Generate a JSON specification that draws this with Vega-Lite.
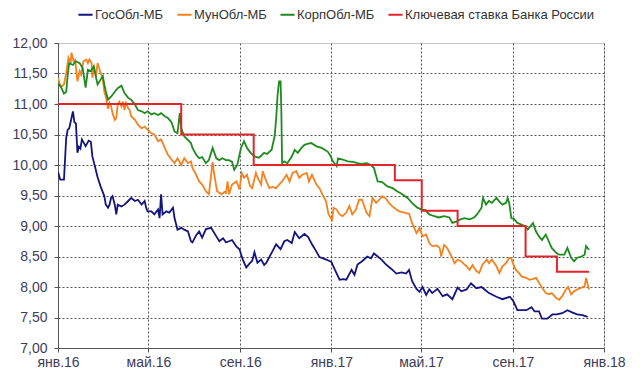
{
  "$schema": "https://vega.github.io/schema/vega-lite/v6.json",
  "width": 546,
  "height": 305,
  "autosize": {"type": "none"},
  "padding": {"left": 58, "top": 43, "right": 36, "bottom": 44},
  "background": "white",
  "config": {
    "font": "Liberation Sans",
    "view": {"stroke": "#c8c8c8", "strokeWidth": 1},
    "axis": {
      "labelFont": "Liberation Sans",
      "labelFontSize": 14,
      "labelColor": "#3c3c5a",
      "domainColor": "#555555",
      "tickColor": "#555555",
      "tickSize": 4,
      "gridColor": "#555555",
      "gridDash": [2, 2],
      "gridOpacity": 1,
      "gridWidth": 1,
      "title": null
    },
    "legend": {
      "labelFont": "Liberation Sans",
      "labelFontSize": 13,
      "labelColor": "#333333",
      "labelLimit": 0
    }
  },
  "datasets": {
    "bonds": [
      {"d":"2016-01-01","s":"ГосОбл-МБ","v":9.89},
      {"d":"2016-01-04","s":"ГосОбл-МБ","v":9.76},
      {"d":"2016-01-09","s":"ГосОбл-МБ","v":9.76},
      {"d":"2016-01-12","s":"ГосОбл-МБ","v":10.45},
      {"d":"2016-01-14","s":"ГосОбл-МБ","v":10.58},
      {"d":"2016-01-16","s":"ГосОбл-МБ","v":10.6},
      {"d":"2016-01-18","s":"ГосОбл-МБ","v":10.71},
      {"d":"2016-01-21","s":"ГосОбл-МБ","v":10.88},
      {"d":"2016-01-23","s":"ГосОбл-МБ","v":10.7},
      {"d":"2016-01-25","s":"ГосОбл-МБ","v":10.68},
      {"d":"2016-01-27","s":"ГосОбл-МБ","v":10.2},
      {"d":"2016-01-29","s":"ГосОбл-МБ","v":10.3},
      {"d":"2016-01-31","s":"ГосОбл-МБ","v":10.27},
      {"d":"2016-02-02","s":"ГосОбл-МБ","v":10.42},
      {"d":"2016-02-07","s":"ГосОбл-МБ","v":10.31},
      {"d":"2016-02-11","s":"ГосОбл-МБ","v":10.4},
      {"d":"2016-02-14","s":"ГосОбл-МБ","v":10.38},
      {"d":"2016-02-16","s":"ГосОбл-МБ","v":10.14},
      {"d":"2016-02-20","s":"ГосОбл-МБ","v":9.95},
      {"d":"2016-02-23","s":"ГосОбл-МБ","v":9.8},
      {"d":"2016-02-27","s":"ГосОбл-МБ","v":9.65},
      {"d":"2016-03-03","s":"ГосОбл-МБ","v":9.49},
      {"d":"2016-03-05","s":"ГосОбл-МБ","v":9.35},
      {"d":"2016-03-08","s":"ГосОбл-МБ","v":9.3},
      {"d":"2016-03-10","s":"ГосОбл-МБ","v":9.35},
      {"d":"2016-03-12","s":"ГосОбл-МБ","v":9.46},
      {"d":"2016-03-14","s":"ГосОбл-МБ","v":9.49},
      {"d":"2016-03-17","s":"ГосОбл-МБ","v":9.35},
      {"d":"2016-03-19","s":"ГосОбл-МБ","v":9.19},
      {"d":"2016-03-21","s":"ГосОбл-МБ","v":9.35},
      {"d":"2016-03-26","s":"ГосОбл-МБ","v":9.32},
      {"d":"2016-03-30","s":"ГосОбл-МБ","v":9.35},
      {"d":"2016-04-04","s":"ГосОбл-МБ","v":9.41},
      {"d":"2016-04-08","s":"ГосОбл-МБ","v":9.46},
      {"d":"2016-04-13","s":"ГосОбл-МБ","v":9.41},
      {"d":"2016-04-17","s":"ГосОбл-МБ","v":9.43},
      {"d":"2016-04-22","s":"ГосОбл-МБ","v":9.35},
      {"d":"2016-04-26","s":"ГосОбл-МБ","v":9.41},
      {"d":"2016-04-28","s":"ГосОбл-МБ","v":9.3},
      {"d":"2016-04-30","s":"ГосОбл-МБ","v":9.24},
      {"d":"2016-05-05","s":"ГосОбл-МБ","v":9.24},
      {"d":"2016-05-09","s":"ГосОбл-МБ","v":9.19},
      {"d":"2016-05-14","s":"ГосОбл-МБ","v":9.27},
      {"d":"2016-05-16","s":"ГосОбл-МБ","v":9.13},
      {"d":"2016-05-18","s":"ГосОбл-МБ","v":9.52},
      {"d":"2016-05-20","s":"ГосОбл-МБ","v":9.19},
      {"d":"2016-05-25","s":"ГосОбл-МБ","v":9.24},
      {"d":"2016-05-29","s":"ГосОбл-МБ","v":9.22},
      {"d":"2016-06-03","s":"ГосОбл-МБ","v":9.3},
      {"d":"2016-06-05","s":"ГосОбл-МБ","v":9.13},
      {"d":"2016-06-09","s":"ГосОбл-МБ","v":8.94},
      {"d":"2016-06-14","s":"ГосОбл-МБ","v":8.97},
      {"d":"2016-06-18","s":"ГосОбл-МБ","v":8.94},
      {"d":"2016-06-23","s":"ГосОбл-МБ","v":8.91},
      {"d":"2016-06-27","s":"ГосОбл-МБ","v":8.75},
      {"d":"2016-06-29","s":"ГосОбл-МБ","v":8.73},
      {"d":"2016-07-04","s":"ГосОбл-МБ","v":8.85},
      {"d":"2016-07-08","s":"ГосОбл-МБ","v":8.91},
      {"d":"2016-07-12","s":"ГосОбл-МБ","v":8.81},
      {"d":"2016-07-17","s":"ГосОбл-МБ","v":8.95},
      {"d":"2016-07-24","s":"ГосОбл-МБ","v":8.97},
      {"d":"2016-07-30","s":"ГосОбл-МБ","v":8.85},
      {"d":"2016-08-04","s":"ГосОбл-МБ","v":8.75},
      {"d":"2016-08-09","s":"ГосОбл-МБ","v":8.8},
      {"d":"2016-08-13","s":"ГосОбл-МБ","v":8.73},
      {"d":"2016-08-21","s":"ГосОбл-МБ","v":8.77},
      {"d":"2016-08-27","s":"ГосОбл-МБ","v":8.66},
      {"d":"2016-08-31","s":"ГосОбл-МБ","v":8.62},
      {"d":"2016-09-04","s":"ГосОбл-МБ","v":8.46},
      {"d":"2016-09-09","s":"ГосОбл-МБ","v":8.32},
      {"d":"2016-09-13","s":"ГосОбл-МБ","v":8.38},
      {"d":"2016-09-17","s":"ГосОбл-МБ","v":8.43},
      {"d":"2016-09-20","s":"ГосОбл-МБ","v":8.57},
      {"d":"2016-09-24","s":"ГосОбл-МБ","v":8.4},
      {"d":"2016-09-29","s":"ГосОбл-МБ","v":8.45},
      {"d":"2016-10-03","s":"ГосОбл-МБ","v":8.36},
      {"d":"2016-10-06","s":"ГосОбл-МБ","v":8.4},
      {"d":"2016-10-13","s":"ГосОбл-МБ","v":8.56},
      {"d":"2016-10-19","s":"ГосОбл-МБ","v":8.7},
      {"d":"2016-10-25","s":"ГосОбл-МБ","v":8.62},
      {"d":"2016-10-30","s":"ГосОбл-МБ","v":8.75},
      {"d":"2016-11-03","s":"ГосОбл-МБ","v":8.77},
      {"d":"2016-11-09","s":"ГосОбл-МБ","v":8.72},
      {"d":"2016-11-13","s":"ГосОбл-МБ","v":8.9},
      {"d":"2016-11-19","s":"ГосОбл-МБ","v":8.8},
      {"d":"2016-11-26","s":"ГосОбл-МБ","v":8.87},
      {"d":"2016-12-01","s":"ГосОбл-МБ","v":8.82},
      {"d":"2016-12-06","s":"ГосОбл-МБ","v":8.7},
      {"d":"2016-12-12","s":"ГосОбл-МБ","v":8.58},
      {"d":"2016-12-16","s":"ГосОбл-МБ","v":8.49},
      {"d":"2016-12-21","s":"ГосОбл-МБ","v":8.47},
      {"d":"2016-12-25","s":"ГосОбл-МБ","v":8.45},
      {"d":"2017-01-01","s":"ГосОбл-МБ","v":8.41},
      {"d":"2017-01-05","s":"ГосОбл-МБ","v":8.3},
      {"d":"2017-01-12","s":"ГосОбл-МБ","v":8.12},
      {"d":"2017-01-17","s":"ГосОбл-МБ","v":8.13},
      {"d":"2017-01-21","s":"ГосОбл-МБ","v":8.12},
      {"d":"2017-01-28","s":"ГосОбл-МБ","v":8.28},
      {"d":"2017-02-01","s":"ГосОбл-МБ","v":8.2},
      {"d":"2017-02-05","s":"ГосОбл-МБ","v":8.37},
      {"d":"2017-02-12","s":"ГосОбл-МБ","v":8.43},
      {"d":"2017-02-18","s":"ГосОбл-МБ","v":8.5},
      {"d":"2017-02-23","s":"ГосОбл-МБ","v":8.47},
      {"d":"2017-02-27","s":"ГосОбл-МБ","v":8.55},
      {"d":"2017-03-02","s":"ГосОбл-МБ","v":8.52},
      {"d":"2017-03-09","s":"ГосОбл-МБ","v":8.45},
      {"d":"2017-03-15","s":"ГосОбл-МБ","v":8.37},
      {"d":"2017-03-22","s":"ГосОбл-МБ","v":8.3},
      {"d":"2017-03-29","s":"ГосОбл-МБ","v":8.22},
      {"d":"2017-04-05","s":"ГосОбл-МБ","v":8.24},
      {"d":"2017-04-11","s":"ГосОбл-МБ","v":8.22},
      {"d":"2017-04-15","s":"ГосОбл-МБ","v":8.28},
      {"d":"2017-04-19","s":"ГосОбл-МБ","v":8.1},
      {"d":"2017-04-25","s":"ГосОбл-МБ","v":7.97},
      {"d":"2017-04-29","s":"ГосОбл-МБ","v":7.92},
      {"d":"2017-05-03","s":"ГосОбл-МБ","v":8.0},
      {"d":"2017-05-08","s":"ГосОбл-МБ","v":7.87},
      {"d":"2017-05-12","s":"ГосОбл-МБ","v":7.96},
      {"d":"2017-05-16","s":"ГосОбл-МБ","v":7.9},
      {"d":"2017-05-23","s":"ГосОбл-МБ","v":7.97},
      {"d":"2017-05-30","s":"ГосОбл-МБ","v":7.85},
      {"d":"2017-06-05","s":"ГосОбл-МБ","v":7.88},
      {"d":"2017-06-12","s":"ГосОбл-МБ","v":7.8},
      {"d":"2017-06-19","s":"ГосОбл-МБ","v":7.99},
      {"d":"2017-06-24","s":"ГосОбл-МБ","v":7.93},
      {"d":"2017-07-01","s":"ГосОбл-МБ","v":7.96},
      {"d":"2017-07-07","s":"ГосОбл-МБ","v":8.06},
      {"d":"2017-07-14","s":"ГосОбл-МБ","v":7.98},
      {"d":"2017-07-21","s":"ГосОбл-МБ","v":8.0},
      {"d":"2017-07-26","s":"ГосОбл-МБ","v":7.95},
      {"d":"2017-07-31","s":"ГосОбл-МБ","v":7.9},
      {"d":"2017-08-10","s":"ГосОбл-МБ","v":7.84},
      {"d":"2017-08-18","s":"ГосОбл-МБ","v":7.8},
      {"d":"2017-08-28","s":"ГосОбл-МБ","v":7.84},
      {"d":"2017-09-01","s":"ГосОбл-МБ","v":7.78},
      {"d":"2017-09-03","s":"ГосОбл-МБ","v":7.73},
      {"d":"2017-09-07","s":"ГосОбл-МБ","v":7.62},
      {"d":"2017-09-14","s":"ГосОбл-МБ","v":7.62},
      {"d":"2017-09-19","s":"ГосОбл-МБ","v":7.62},
      {"d":"2017-09-26","s":"ГосОбл-МБ","v":7.67},
      {"d":"2017-09-30","s":"ГосОбл-МБ","v":7.6},
      {"d":"2017-10-06","s":"ГосОбл-МБ","v":7.6},
      {"d":"2017-10-10","s":"ГосОбл-МБ","v":7.48},
      {"d":"2017-10-17","s":"ГосОбл-МБ","v":7.48},
      {"d":"2017-10-24","s":"ГосОбл-МБ","v":7.55},
      {"d":"2017-10-30","s":"ГосОбл-МБ","v":7.55},
      {"d":"2017-11-06","s":"ГосОбл-МБ","v":7.57},
      {"d":"2017-11-13","s":"ГосОбл-МБ","v":7.62},
      {"d":"2017-11-20","s":"ГосОбл-МБ","v":7.58},
      {"d":"2017-11-26","s":"ГосОбл-МБ","v":7.55},
      {"d":"2017-12-03","s":"ГосОбл-МБ","v":7.54},
      {"d":"2017-12-10","s":"ГосОбл-МБ","v":7.51},

      {"d":"2016-01-01","s":"МунОбл-МБ","v":11.43},
      {"d":"2016-01-03","s":"МунОбл-МБ","v":11.34},
      {"d":"2016-01-05","s":"МунОбл-МБ","v":11.28},
      {"d":"2016-01-09","s":"МунОбл-МБ","v":11.32},
      {"d":"2016-01-12","s":"МунОбл-МБ","v":11.51},
      {"d":"2016-01-15","s":"МунОбл-МБ","v":11.76},
      {"d":"2016-01-18","s":"МунОбл-МБ","v":11.67},
      {"d":"2016-01-19","s":"МунОбл-МБ","v":11.84},
      {"d":"2016-01-22","s":"МунОбл-МБ","v":11.7},
      {"d":"2016-01-24","s":"МунОбл-МБ","v":11.72},
      {"d":"2016-01-27","s":"МунОбл-МБ","v":11.37},
      {"d":"2016-01-30","s":"МунОбл-МБ","v":11.54},
      {"d":"2016-02-01","s":"МунОбл-МБ","v":11.48},
      {"d":"2016-02-04","s":"МунОбл-МБ","v":11.7},
      {"d":"2016-02-08","s":"МунОбл-МБ","v":11.73},
      {"d":"2016-02-10","s":"МунОбл-МБ","v":11.67},
      {"d":"2016-02-12","s":"МунОбл-МБ","v":11.73},
      {"d":"2016-02-15","s":"МунОбл-МБ","v":11.67},
      {"d":"2016-02-16","s":"МунОбл-МБ","v":11.43},
      {"d":"2016-02-18","s":"МунОбл-МБ","v":11.56},
      {"d":"2016-02-21","s":"МунОбл-МБ","v":11.48},
      {"d":"2016-02-23","s":"МунОбл-МБ","v":11.67},
      {"d":"2016-02-25","s":"МунОбл-МБ","v":11.59},
      {"d":"2016-02-28","s":"МунОбл-МБ","v":11.48},
      {"d":"2016-03-01","s":"МунОбл-МБ","v":11.4},
      {"d":"2016-03-03","s":"МунОбл-МБ","v":11.2},
      {"d":"2016-03-05","s":"МунОбл-МБ","v":11.12},
      {"d":"2016-03-08","s":"МунОбл-МБ","v":10.92},
      {"d":"2016-03-10","s":"МунОбл-МБ","v":11.02},
      {"d":"2016-03-12","s":"МунОбл-МБ","v":10.97},
      {"d":"2016-03-14","s":"МунОбл-МБ","v":10.85},
      {"d":"2016-03-17","s":"МунОбл-МБ","v":10.74},
      {"d":"2016-03-19","s":"МунОбл-МБ","v":10.77},
      {"d":"2016-03-21","s":"МунОбл-МБ","v":11.0},
      {"d":"2016-03-23","s":"МунОбл-МБ","v":11.04},
      {"d":"2016-03-26","s":"МунОбл-МБ","v":10.96},
      {"d":"2016-03-28","s":"МунОбл-МБ","v":11.04},
      {"d":"2016-03-30","s":"МунОбл-МБ","v":10.9},
      {"d":"2016-04-01","s":"МунОбл-МБ","v":11.02},
      {"d":"2016-04-04","s":"МунОбл-МБ","v":10.93},
      {"d":"2016-04-06","s":"МунОбл-МБ","v":10.9},
      {"d":"2016-04-08","s":"МунОбл-МБ","v":10.8},
      {"d":"2016-04-13","s":"МунОбл-МБ","v":10.74},
      {"d":"2016-04-17","s":"МунОбл-МБ","v":10.66},
      {"d":"2016-04-22","s":"МунОбл-МБ","v":10.6},
      {"d":"2016-04-26","s":"МунОбл-МБ","v":10.63},
      {"d":"2016-04-30","s":"МунОбл-МБ","v":10.58},
      {"d":"2016-05-05","s":"МунОбл-МБ","v":10.52},
      {"d":"2016-05-09","s":"МунОбл-МБ","v":10.5},
      {"d":"2016-05-14","s":"МунОбл-МБ","v":10.39},
      {"d":"2016-05-18","s":"МунОбл-МБ","v":10.42},
      {"d":"2016-05-23","s":"МунОбл-МБ","v":10.28},
      {"d":"2016-05-27","s":"МунОбл-МБ","v":10.17},
      {"d":"2016-06-01","s":"МунОбл-МБ","v":10.09},
      {"d":"2016-06-05","s":"МунОбл-МБ","v":10.03},
      {"d":"2016-06-09","s":"МунОбл-МБ","v":10.11},
      {"d":"2016-06-14","s":"МунОбл-МБ","v":10.0},
      {"d":"2016-06-18","s":"МунОбл-МБ","v":10.11},
      {"d":"2016-06-23","s":"МунОбл-МБ","v":10.03},
      {"d":"2016-06-27","s":"МунОбл-МБ","v":10.06},
      {"d":"2016-06-29","s":"МунОбл-МБ","v":9.95},
      {"d":"2016-07-04","s":"МунОбл-МБ","v":9.84},
      {"d":"2016-07-08","s":"МунОбл-МБ","v":9.73},
      {"d":"2016-07-12","s":"МунОбл-МБ","v":9.68},
      {"d":"2016-07-17","s":"МунОбл-МБ","v":9.57},
      {"d":"2016-07-21","s":"МунОбл-МБ","v":9.52},
      {"d":"2016-07-26","s":"МунОбл-МБ","v":10.05},
      {"d":"2016-07-28","s":"МунОбл-МБ","v":9.86},
      {"d":"2016-08-01","s":"МунОбл-МБ","v":9.57},
      {"d":"2016-08-07","s":"МунОбл-МБ","v":9.52},
      {"d":"2016-08-11","s":"МунОбл-МБ","v":9.56},
      {"d":"2016-08-13","s":"МунОбл-МБ","v":9.54},
      {"d":"2016-08-15","s":"МунОбл-МБ","v":9.73},
      {"d":"2016-08-17","s":"МунОбл-МБ","v":9.52},
      {"d":"2016-08-21","s":"МунОбл-МБ","v":9.68},
      {"d":"2016-08-27","s":"МунОбл-МБ","v":9.73},
      {"d":"2016-08-31","s":"МунОбл-МБ","v":9.6},
      {"d":"2016-09-03","s":"МунОбл-МБ","v":9.87},
      {"d":"2016-09-06","s":"МунОбл-МБ","v":9.79},
      {"d":"2016-09-10","s":"МунОбл-МБ","v":9.84},
      {"d":"2016-09-14","s":"МунОбл-МБ","v":9.66},
      {"d":"2016-09-17","s":"МунОбл-МБ","v":9.62},
      {"d":"2016-09-22","s":"МунОбл-МБ","v":9.87},
      {"d":"2016-09-24","s":"МунОбл-МБ","v":9.8},
      {"d":"2016-09-29","s":"МунОбл-МБ","v":9.68},
      {"d":"2016-10-01","s":"МунОбл-МБ","v":9.9},
      {"d":"2016-10-06","s":"МунОбл-МБ","v":9.73},
      {"d":"2016-10-10","s":"МунОбл-МБ","v":9.62},
      {"d":"2016-10-14","s":"МунОбл-МБ","v":9.64},
      {"d":"2016-10-19","s":"МунОбл-МБ","v":9.62},
      {"d":"2016-10-23","s":"МунОбл-МБ","v":9.68},
      {"d":"2016-10-27","s":"МунОбл-МБ","v":9.73},
      {"d":"2016-11-02","s":"МунОбл-МБ","v":9.84},
      {"d":"2016-11-06","s":"МунОбл-МБ","v":9.73},
      {"d":"2016-11-10","s":"МунОбл-МБ","v":9.87},
      {"d":"2016-11-15","s":"МунОбл-МБ","v":9.9},
      {"d":"2016-11-19","s":"МунОбл-МБ","v":9.79},
      {"d":"2016-11-23","s":"МунОбл-МБ","v":9.84},
      {"d":"2016-11-29","s":"МунОбл-МБ","v":9.87},
      {"d":"2016-12-02","s":"МунОбл-МБ","v":9.73},
      {"d":"2016-12-06","s":"МунОбл-МБ","v":9.84},
      {"d":"2016-12-12","s":"МунОбл-МБ","v":9.68},
      {"d":"2016-12-16","s":"МунОбл-МБ","v":9.62},
      {"d":"2016-12-20","s":"МунОбл-МБ","v":9.52},
      {"d":"2016-12-25","s":"МунОбл-МБ","v":9.4},
      {"d":"2016-12-28","s":"МунОбл-МБ","v":9.2},
      {"d":"2016-12-31","s":"МунОбл-МБ","v":9.13},
      {"d":"2017-01-02","s":"МунОбл-МБ","v":9.1},
      {"d":"2017-01-04","s":"МунОбл-МБ","v":9.3},
      {"d":"2017-01-08","s":"МунОбл-МБ","v":9.27},
      {"d":"2017-01-12","s":"МунОбл-МБ","v":9.19},
      {"d":"2017-01-16","s":"МунОбл-МБ","v":9.16},
      {"d":"2017-01-21","s":"МунОбл-МБ","v":9.22},
      {"d":"2017-01-25","s":"МунОбл-МБ","v":9.33},
      {"d":"2017-01-29","s":"МунОбл-МБ","v":9.19},
      {"d":"2017-02-03","s":"МунОбл-МБ","v":9.27},
      {"d":"2017-02-07","s":"МунОбл-МБ","v":9.43},
      {"d":"2017-02-11","s":"МунОбл-МБ","v":9.43},
      {"d":"2017-02-17","s":"МунОбл-МБ","v":9.22},
      {"d":"2017-02-21","s":"МунОбл-МБ","v":9.16},
      {"d":"2017-02-25","s":"МунОбл-МБ","v":9.46},
      {"d":"2017-03-02","s":"МунОбл-МБ","v":9.38},
      {"d":"2017-03-06","s":"МунОбл-МБ","v":9.43},
      {"d":"2017-03-10","s":"МунОбл-МБ","v":9.49},
      {"d":"2017-03-15","s":"МунОбл-МБ","v":9.45},
      {"d":"2017-03-19","s":"МунОбл-МБ","v":9.38},
      {"d":"2017-03-23","s":"МунОбл-МБ","v":9.33},
      {"d":"2017-03-29","s":"МунОбл-МБ","v":9.27},
      {"d":"2017-04-02","s":"МунОбл-МБ","v":9.24},
      {"d":"2017-04-09","s":"МунОбл-МБ","v":9.22},
      {"d":"2017-04-15","s":"МунОбл-МБ","v":9.2},
      {"d":"2017-04-19","s":"МунОбл-МБ","v":9.05},
      {"d":"2017-04-25","s":"МунОбл-МБ","v":8.88},
      {"d":"2017-04-29","s":"МунОбл-МБ","v":8.97},
      {"d":"2017-05-03","s":"МунОбл-МБ","v":8.83},
      {"d":"2017-05-08","s":"МунОбл-МБ","v":8.86},
      {"d":"2017-05-12","s":"МунОбл-МБ","v":8.72},
      {"d":"2017-05-16","s":"МунОбл-МБ","v":8.67},
      {"d":"2017-05-22","s":"МунОбл-МБ","v":8.68},
      {"d":"2017-05-26","s":"МунОбл-МБ","v":8.64},
      {"d":"2017-05-28","s":"МунОбл-МБ","v":8.5},
      {"d":"2017-06-01","s":"МунОбл-МБ","v":8.69},
      {"d":"2017-06-05","s":"МунОбл-МБ","v":8.64},
      {"d":"2017-06-11","s":"МунОбл-МБ","v":8.5},
      {"d":"2017-06-15","s":"МунОбл-МБ","v":8.39},
      {"d":"2017-06-19","s":"МунОбл-МБ","v":8.45},
      {"d":"2017-06-24","s":"МунОбл-МБ","v":8.42},
      {"d":"2017-06-28","s":"МунОбл-МБ","v":8.37},
      {"d":"2017-07-01","s":"МунОбл-МБ","v":8.34},
      {"d":"2017-07-05","s":"МунОбл-МБ","v":8.28},
      {"d":"2017-07-09","s":"МунОбл-МБ","v":8.36},
      {"d":"2017-07-14","s":"МунОбл-МБ","v":8.26},
      {"d":"2017-07-18","s":"МунОбл-МБ","v":8.23},
      {"d":"2017-07-22","s":"МунОбл-МБ","v":8.36},
      {"d":"2017-07-28","s":"МунОбл-МБ","v":8.45},
      {"d":"2017-07-31","s":"МунОбл-МБ","v":8.39},
      {"d":"2017-08-04","s":"МунОбл-МБ","v":8.45},
      {"d":"2017-08-10","s":"МунОбл-МБ","v":8.34},
      {"d":"2017-08-14","s":"МунОбл-МБ","v":8.23},
      {"d":"2017-08-18","s":"МунОбл-МБ","v":8.34},
      {"d":"2017-08-23","s":"МунОбл-МБ","v":8.39},
      {"d":"2017-08-27","s":"МунОбл-МБ","v":8.48},
      {"d":"2017-08-30","s":"МунОбл-МБ","v":8.47},
      {"d":"2017-09-01","s":"МунОбл-МБ","v":8.39},
      {"d":"2017-09-05","s":"МунОбл-МБ","v":8.28},
      {"d":"2017-09-09","s":"МунОбл-МБ","v":8.23},
      {"d":"2017-09-13","s":"МунОбл-МБ","v":8.17},
      {"d":"2017-09-19","s":"МунОбл-МБ","v":8.15},
      {"d":"2017-09-23","s":"МунОбл-МБ","v":8.12},
      {"d":"2017-09-27","s":"МунОбл-МБ","v":8.13},
      {"d":"2017-10-02","s":"МунОбл-МБ","v":8.15},
      {"d":"2017-10-06","s":"МунОбл-МБ","v":8.07},
      {"d":"2017-10-10","s":"МунОбл-МБ","v":7.99},
      {"d":"2017-10-15","s":"МунОбл-МБ","v":7.9},
      {"d":"2017-10-19","s":"МунОбл-МБ","v":7.88},
      {"d":"2017-10-23","s":"МунОбл-МБ","v":7.9},
      {"d":"2017-10-29","s":"МунОбл-МБ","v":7.82},
      {"d":"2017-11-02","s":"МунОбл-МБ","v":7.79},
      {"d":"2017-11-06","s":"МунОбл-МБ","v":7.85},
      {"d":"2017-11-11","s":"МунОбл-МБ","v":7.96},
      {"d":"2017-11-14","s":"МунОбл-МБ","v":8.0},
      {"d":"2017-11-18","s":"МунОбл-МБ","v":7.88},
      {"d":"2017-11-22","s":"МунОбл-МБ","v":7.93},
      {"d":"2017-11-26","s":"МунОбл-МБ","v":7.96},
      {"d":"2017-12-02","s":"МунОбл-МБ","v":7.99},
      {"d":"2017-12-06","s":"МунОбл-МБ","v":8.01},
      {"d":"2017-12-08","s":"МунОбл-МБ","v":8.15},
      {"d":"2017-12-12","s":"МунОбл-МБ","v":7.96},

      {"d":"2016-01-01","s":"КорпОбл-МБ","v":11.34},
      {"d":"2016-01-05","s":"КорпОбл-МБ","v":11.28},
      {"d":"2016-01-09","s":"КорпОбл-МБ","v":11.17},
      {"d":"2016-01-12","s":"КорпОбл-МБ","v":11.2},
      {"d":"2016-01-14","s":"КорпОбл-МБ","v":11.48},
      {"d":"2016-01-16","s":"КорпОбл-МБ","v":11.67},
      {"d":"2016-01-21","s":"КорпОбл-МБ","v":11.64},
      {"d":"2016-01-25","s":"КорпОбл-МБ","v":11.7},
      {"d":"2016-01-30","s":"КорпОбл-МБ","v":11.67},
      {"d":"2016-02-03","s":"КорпОбл-МБ","v":11.59},
      {"d":"2016-02-07","s":"КорпОбл-МБ","v":11.27},
      {"d":"2016-02-10","s":"КорпОбл-МБ","v":11.56},
      {"d":"2016-02-14","s":"КорпОбл-МБ","v":11.54},
      {"d":"2016-02-18","s":"КорпОбл-МБ","v":11.62},
      {"d":"2016-02-21","s":"КорпОбл-МБ","v":11.43},
      {"d":"2016-02-23","s":"КорпОбл-МБ","v":11.32},
      {"d":"2016-02-27","s":"КорпОбл-МБ","v":11.4},
      {"d":"2016-03-01","s":"КорпОбл-МБ","v":11.46},
      {"d":"2016-03-03","s":"КорпОбл-МБ","v":11.32},
      {"d":"2016-03-05","s":"КорпОбл-МБ","v":11.21},
      {"d":"2016-03-08","s":"КорпОбл-МБ","v":11.07},
      {"d":"2016-03-12","s":"КорпОбл-МБ","v":11.12},
      {"d":"2016-03-17","s":"КорпОбл-МБ","v":11.2},
      {"d":"2016-03-21","s":"КорпОбл-МБ","v":11.26},
      {"d":"2016-03-26","s":"КорпОбл-МБ","v":11.3},
      {"d":"2016-03-30","s":"КорпОбл-МБ","v":11.18},
      {"d":"2016-04-04","s":"КорпОбл-МБ","v":11.1},
      {"d":"2016-04-08","s":"КорпОбл-МБ","v":11.07},
      {"d":"2016-04-13","s":"КорпОбл-МБ","v":10.99},
      {"d":"2016-04-17","s":"КорпОбл-МБ","v":10.9},
      {"d":"2016-04-22","s":"КорпОбл-МБ","v":10.88},
      {"d":"2016-04-26","s":"КорпОбл-МБ","v":10.85},
      {"d":"2016-04-30","s":"КорпОбл-МБ","v":10.88},
      {"d":"2016-05-05","s":"КорпОбл-МБ","v":10.83},
      {"d":"2016-05-09","s":"КорпОбл-МБ","v":10.85},
      {"d":"2016-05-14","s":"КорпОбл-МБ","v":10.82},
      {"d":"2016-05-18","s":"КорпОбл-МБ","v":10.85},
      {"d":"2016-05-23","s":"КорпОбл-МБ","v":10.8},
      {"d":"2016-05-27","s":"КорпОбл-МБ","v":10.77},
      {"d":"2016-06-01","s":"КорпОбл-МБ","v":10.7},
      {"d":"2016-06-05","s":"КорпОбл-МБ","v":10.55},
      {"d":"2016-06-09","s":"КорпОбл-МБ","v":10.52},
      {"d":"2016-06-12","s":"КорпОбл-МБ","v":10.85},
      {"d":"2016-06-14","s":"КорпОбл-МБ","v":10.6},
      {"d":"2016-06-18","s":"КорпОбл-МБ","v":10.47},
      {"d":"2016-06-22","s":"КорпОбл-МБ","v":10.42},
      {"d":"2016-06-27","s":"КорпОбл-МБ","v":10.36},
      {"d":"2016-06-29","s":"КорпОбл-МБ","v":10.28},
      {"d":"2016-07-04","s":"КорпОбл-МБ","v":10.17},
      {"d":"2016-07-08","s":"КорпОбл-МБ","v":10.11},
      {"d":"2016-07-12","s":"КорпОбл-МБ","v":10.13},
      {"d":"2016-07-17","s":"КорпОбл-МБ","v":10.03},
      {"d":"2016-07-21","s":"КорпОбл-МБ","v":10.08},
      {"d":"2016-07-26","s":"КорпОбл-МБ","v":10.28},
      {"d":"2016-07-31","s":"КорпОбл-МБ","v":10.11},
      {"d":"2016-08-04","s":"КорпОбл-МБ","v":10.08},
      {"d":"2016-08-08","s":"КорпОбл-МБ","v":10.11},
      {"d":"2016-08-13","s":"КорпОбл-МБ","v":10.08},
      {"d":"2016-08-17","s":"КорпОбл-МБ","v":10.08},
      {"d":"2016-08-21","s":"КорпОбл-МБ","v":10.05},
      {"d":"2016-08-24","s":"КорпОбл-МБ","v":9.92},
      {"d":"2016-08-28","s":"КорпОбл-МБ","v":10.0},
      {"d":"2016-09-02","s":"КорпОбл-МБ","v":10.28},
      {"d":"2016-09-06","s":"КорпОбл-МБ","v":10.39},
      {"d":"2016-09-10","s":"КорпОбл-МБ","v":10.28},
      {"d":"2016-09-15","s":"КорпОбл-МБ","v":10.2},
      {"d":"2016-09-20","s":"КорпОбл-МБ","v":10.14},
      {"d":"2016-09-26","s":"КорпОбл-МБ","v":10.12},
      {"d":"2016-10-03","s":"КорпОбл-МБ","v":10.2},
      {"d":"2016-10-07","s":"КорпОбл-МБ","v":10.18},
      {"d":"2016-10-13","s":"КорпОбл-МБ","v":10.25},
      {"d":"2016-10-17","s":"КорпОбл-МБ","v":10.47},
      {"d":"2016-10-19","s":"КорпОбл-МБ","v":10.75},
      {"d":"2016-10-21","s":"КорпОбл-МБ","v":11.15},
      {"d":"2016-10-23","s":"КорпОбл-МБ","v":11.37},
      {"d":"2016-10-25","s":"КорпОбл-МБ","v":11.37},
      {"d":"2016-10-26","s":"КорпОбл-МБ","v":10.9},
      {"d":"2016-10-27","s":"КорпОбл-МБ","v":10.03},
      {"d":"2016-10-30","s":"КорпОбл-МБ","v":10.06},
      {"d":"2016-11-03","s":"КорпОбл-МБ","v":10.03},
      {"d":"2016-11-09","s":"КорпОбл-МБ","v":10.14},
      {"d":"2016-11-13","s":"КорпОбл-МБ","v":10.25},
      {"d":"2016-11-17","s":"КорпОбл-МБ","v":10.2},
      {"d":"2016-11-22","s":"КорпОбл-МБ","v":10.28},
      {"d":"2016-11-26","s":"КорпОбл-МБ","v":10.33},
      {"d":"2016-12-01","s":"КорпОбл-МБ","v":10.35},
      {"d":"2016-12-05","s":"КорпОбл-МБ","v":10.36},
      {"d":"2016-12-09","s":"КорпОбл-МБ","v":10.33},
      {"d":"2016-12-13","s":"КорпОбл-МБ","v":10.3},
      {"d":"2016-12-19","s":"КорпОбл-МБ","v":10.28},
      {"d":"2016-12-23","s":"КорпОбл-МБ","v":10.25},
      {"d":"2016-12-27","s":"КорпОбл-МБ","v":10.22},
      {"d":"2016-12-30","s":"КорпОбл-МБ","v":10.17},
      {"d":"2017-01-03","s":"КорпОбл-МБ","v":10.06},
      {"d":"2017-01-08","s":"КорпОбл-МБ","v":9.98},
      {"d":"2017-01-10","s":"КорпОбл-МБ","v":10.11},
      {"d":"2017-01-16","s":"КорпОбл-МБ","v":10.09},
      {"d":"2017-01-23","s":"КорпОбл-МБ","v":10.06},
      {"d":"2017-01-30","s":"КорпОбл-МБ","v":10.05},
      {"d":"2017-02-05","s":"КорпОбл-МБ","v":10.03},
      {"d":"2017-02-10","s":"КорпОбл-МБ","v":10.02},
      {"d":"2017-02-17","s":"КорпОбл-МБ","v":10.03},
      {"d":"2017-02-23","s":"КорпОбл-МБ","v":10.0},
      {"d":"2017-02-27","s":"КорпОбл-МБ","v":9.95},
      {"d":"2017-03-04","s":"КорпОбл-МБ","v":9.73},
      {"d":"2017-03-10","s":"КорпОбл-МБ","v":9.72},
      {"d":"2017-03-17","s":"КорпОбл-МБ","v":9.65},
      {"d":"2017-03-24","s":"КорпОбл-МБ","v":9.62},
      {"d":"2017-03-30","s":"КорпОбл-МБ","v":9.57},
      {"d":"2017-04-06","s":"КорпОбл-МБ","v":9.52},
      {"d":"2017-04-13","s":"КорпОбл-МБ","v":9.46},
      {"d":"2017-04-19","s":"КорпОбл-МБ","v":9.38},
      {"d":"2017-04-26","s":"КорпОбл-МБ","v":9.3},
      {"d":"2017-05-02","s":"КорпОбл-МБ","v":9.27},
      {"d":"2017-05-07","s":"КорпОбл-МБ","v":9.26},
      {"d":"2017-05-12","s":"КорпОбл-МБ","v":9.19},
      {"d":"2017-05-19","s":"КорпОбл-МБ","v":9.16},
      {"d":"2017-05-25","s":"КорпОбл-МБ","v":9.14},
      {"d":"2017-06-01","s":"КорпОбл-МБ","v":9.16},
      {"d":"2017-06-08","s":"КорпОбл-МБ","v":9.14},
      {"d":"2017-06-12","s":"КорпОбл-МБ","v":9.05},
      {"d":"2017-06-17","s":"КорпОбл-МБ","v":9.07},
      {"d":"2017-06-21","s":"КорпОбл-МБ","v":9.1},
      {"d":"2017-06-28","s":"КорпОбл-МБ","v":9.13},
      {"d":"2017-07-05","s":"КорпОбл-МБ","v":9.11},
      {"d":"2017-07-11","s":"КорпОбл-МБ","v":9.14},
      {"d":"2017-07-15","s":"КорпОбл-МБ","v":9.19},
      {"d":"2017-07-21","s":"КорпОбл-МБ","v":9.3},
      {"d":"2017-07-23","s":"КорпОбл-МБ","v":9.46},
      {"d":"2017-07-27","s":"КорпОбл-МБ","v":9.35},
      {"d":"2017-07-31","s":"КорпОбл-МБ","v":9.41},
      {"d":"2017-08-04","s":"КорпОбл-МБ","v":9.38},
      {"d":"2017-08-10","s":"КорпОбл-МБ","v":9.46},
      {"d":"2017-08-14","s":"КорпОбл-МБ","v":9.4},
      {"d":"2017-08-18","s":"КорпОбл-МБ","v":9.35},
      {"d":"2017-08-23","s":"КорпОбл-МБ","v":9.38},
      {"d":"2017-08-25","s":"КорпОбл-МБ","v":9.46},
      {"d":"2017-08-27","s":"КорпОбл-МБ","v":9.38},
      {"d":"2017-08-30","s":"КорпОбл-МБ","v":9.13},
      {"d":"2017-09-03","s":"КорпОбл-МБ","v":9.11},
      {"d":"2017-09-07","s":"КорпОбл-МБ","v":9.05},
      {"d":"2017-09-13","s":"КорпОбл-МБ","v":9.02},
      {"d":"2017-09-17","s":"КорпОбл-МБ","v":9.0},
      {"d":"2017-09-21","s":"КорпОбл-МБ","v":8.94},
      {"d":"2017-09-26","s":"КорпОбл-МБ","v":9.02},
      {"d":"2017-09-28","s":"КорпОбл-МБ","v":9.05},
      {"d":"2017-10-02","s":"КорпОбл-МБ","v":8.91},
      {"d":"2017-10-06","s":"КорпОбл-МБ","v":8.83},
      {"d":"2017-10-10","s":"КорпОбл-МБ","v":8.77},
      {"d":"2017-10-15","s":"КорпОбл-МБ","v":8.86},
      {"d":"2017-10-19","s":"КорпОбл-МБ","v":8.75},
      {"d":"2017-10-23","s":"КорпОбл-МБ","v":8.64},
      {"d":"2017-10-29","s":"КорпОбл-МБ","v":8.56},
      {"d":"2017-11-02","s":"КорпОбл-МБ","v":8.53},
      {"d":"2017-11-09","s":"КорпОбл-МБ","v":8.53},
      {"d":"2017-11-13","s":"КорпОбл-МБ","v":8.64},
      {"d":"2017-11-18","s":"КорпОбл-МБ","v":8.48},
      {"d":"2017-11-22","s":"КорпОбл-МБ","v":8.42},
      {"d":"2017-11-26","s":"КорпОбл-МБ","v":8.48},
      {"d":"2017-12-02","s":"КорпОбл-МБ","v":8.5},
      {"d":"2017-12-06","s":"КорпОбл-МБ","v":8.53},
      {"d":"2017-12-08","s":"КорпОбл-МБ","v":8.67},
      {"d":"2017-12-12","s":"КорпОбл-МБ","v":8.61}
    ],
    "keyrate": [
      {"d":"2016-01-01","s":"Ключевая ставка Банка России","v":11.0},
      {"d":"2016-06-14","s":"Ключевая ставка Банка России","v":10.5},
      {"d":"2016-09-19","s":"Ключевая ставка Банка России","v":10.0},
      {"d":"2017-03-27","s":"Ключевая ставка Банка России","v":9.75},
      {"d":"2017-05-02","s":"Ключевая ставка Банка России","v":9.25},
      {"d":"2017-06-19","s":"Ключевая ставка Банка России","v":9.0},
      {"d":"2017-09-18","s":"Ключевая ставка Банка России","v":8.5},
      {"d":"2017-10-30","s":"Ключевая ставка Банка России","v":8.25},
      {"d":"2017-12-12","s":"Ключевая ставка Банка России","v":8.25}
    ]
  },
  "encoding": {
    "x": {
      "field": "d",
      "type": "temporal",
      "scale": {
        "type": "utc",
        "domain": [
          {"year": 2016, "month": 1, "date": 1, "utc": true},
          {"year": 2018, "month": 1, "date": 1, "utc": true}
        ],
        "nice": false
      },
      "axis": {
        "values": [
          {"year": 2016, "month": 1, "date": 1, "utc": true},
          {"year": 2016, "month": 5, "date": 1, "utc": true},
          {"year": 2016, "month": 9, "date": 1, "utc": true},
          {"year": 2017, "month": 1, "date": 1, "utc": true},
          {"year": 2017, "month": 5, "date": 1, "utc": true},
          {"year": 2017, "month": 9, "date": 1, "utc": true},
          {"year": 2018, "month": 1, "date": 1, "utc": true}
        ],
        "labelExpr": "['янв','фев','мар','апр','май','июн','июл','авг','сен','окт','ноя','дек'][utcmonth(datum.value)] + '.' + utcFormat(datum.value, '%y')",
        "labelPadding": 3,
        "labelFlush": false,
        "labelOverlap": false,
        "grid": true
      }
    },
    "y": {
      "field": "v",
      "type": "quantitative",
      "scale": {"domain": [7, 12], "nice": false, "zero": false},
      "axis": {
        "values": [7, 7.5, 8, 8.5, 9, 9.5, 10, 10.5, 11, 11.5, 12],
        "labelExpr": "replace(format(datum.value, '.2f'), '.', ',')",
        "labelPadding": 7,
        "grid": true,
        "gridColor": {"condition": {"test": "datum.value >= 12", "value": "transparent"}, "value": "#555555"}
      }
    },
    "color": {
      "field": "s",
      "type": "nominal",
      "scale": {
        "domain": ["ГосОбл-МБ", "МунОбл-МБ", "КорпОбл-МБ", "Ключевая ставка Банка России"],
        "range": ["#14147f", "#f5821f", "#1e8b1e", "#e3242b"]
      },
      "legend": {
        "title": null,
        "orient": "none",
        "direction": "horizontal",
        "legendX": 19,
        "legendY": -37,
        "symbolType": "stroke",
        "symbolSize": 200,
        "symbolStrokeWidth": 2,
        "labelOffset": 1,
        "columnPadding": 9,
        "labelLimit": 0
      }
    }
  },
  "layer": [
    {
      "data": {"name": "bonds"},
      "mark": {"type": "line", "strokeWidth": 1.8, "clip": true}
    },
    {
      "data": {"name": "keyrate"},
      "mark": {"type": "line", "strokeWidth": 2, "interpolate": "step-after", "clip": true}
    }
  ]
}
